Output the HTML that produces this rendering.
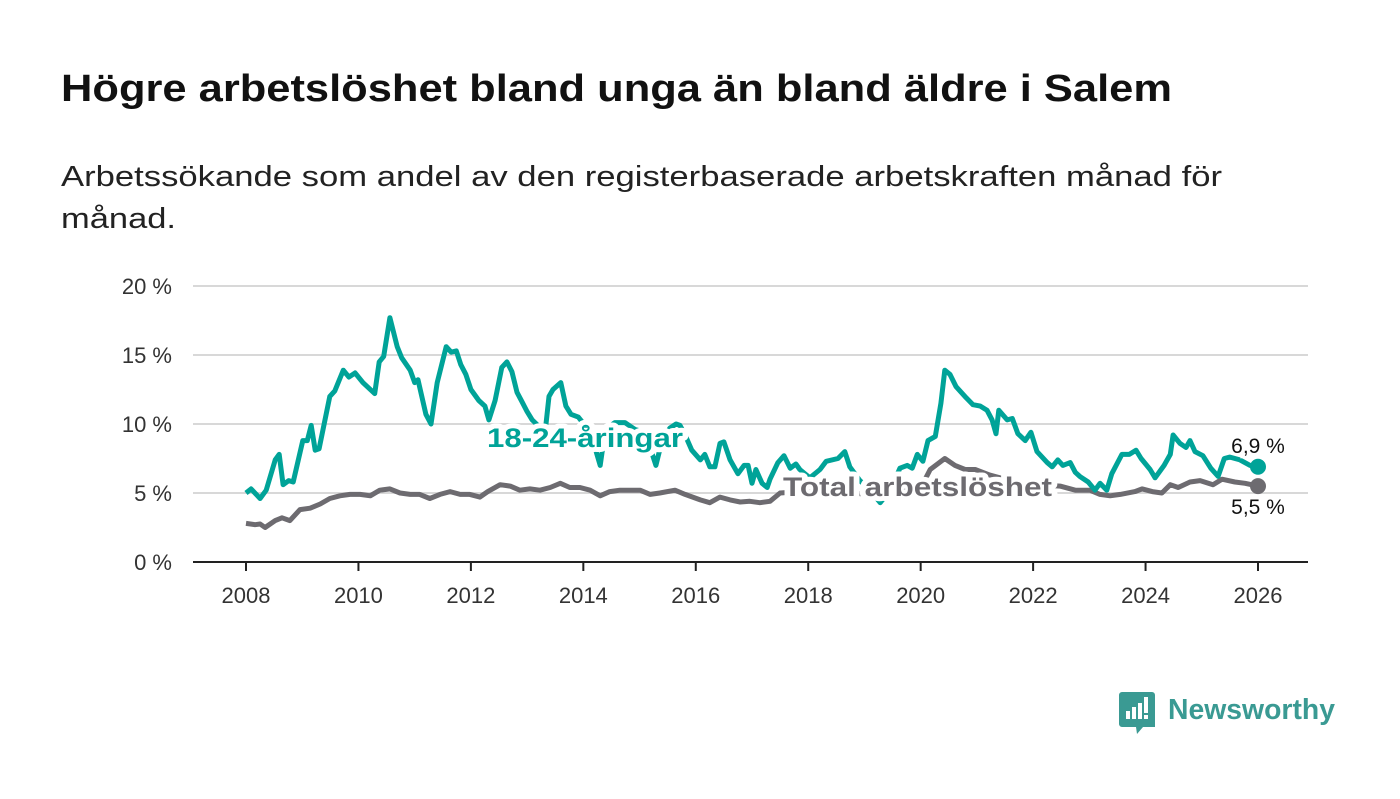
<!DOCTYPE html>
<html><head><meta charset="utf-8"><style>
body{margin:0;background:#fff;width:1400px;height:794px;overflow:hidden;font-family:"Liberation Sans",sans-serif}
</style></head><body>
<svg width="1400" height="794" xmlns="http://www.w3.org/2000/svg">
<text x="61" y="101" font-size="38" font-weight="bold" fill="#111" textLength="1111" lengthAdjust="spacingAndGlyphs">Högre arbetslöshet bland unga än bland äldre i Salem</text>
<text x="61" y="186" font-size="29" fill="#222" textLength="1161" lengthAdjust="spacingAndGlyphs">Arbetssökande som andel av den registerbaserade arbetskraften månad för</text>
<text x="61" y="228" font-size="29" fill="#222" textLength="115" lengthAdjust="spacingAndGlyphs">månad.</text>
<g id="grid"></g><g id="xaxis"></g><g id="series"></g>
<g>
<path d="M1122,692 h30 a3,3 0 0 1 3,3 v32 h-12 l-6,7 l-1,-7 h-14 a3,3 0 0 1 -3,-3 v-29 a3,3 0 0 1 3,-3z" fill="#3a9a93"/>
<rect x="1126" y="711" width="4" height="8" fill="#fff"/><rect x="1132" y="707" width="4" height="12" fill="#fff"/><rect x="1138" y="703" width="4" height="16" fill="#fff"/><rect x="1144" y="697" width="4" height="16" fill="#fff"/><rect x="1144" y="715" width="4" height="4" fill="#fff"/>
<text x="1168" y="719" font-size="29" font-weight="bold" fill="#3a9a93" textLength="167" lengthAdjust="spacingAndGlyphs">Newsworthy</text></g>
</svg>
<script>
const yTicks=[0,5,10,15,20];
const yTickLabels=["0 %","5 %","10 %","15 %","20 %"];
const xTicks=[2008,2010,2012,2014,2016,2018,2020,2022,2024,2026];
const youthDates=[2008.00,2008.09,2008.25,2008.36,2008.52,2008.59,2008.66,2008.76,2008.84,2009.01,2009.09,2009.16,2009.23,2009.30,2009.49,2009.58,2009.73,2009.83,2009.94,2010.08,2010.29,2010.37,2010.45,2010.56,2010.69,2010.77,2010.92,2011.00,2011.06,2011.20,2011.29,2011.40,2011.56,2011.65,2011.74,2011.82,2011.91,2012.00,2012.14,2012.25,2012.32,2012.43,2012.55,2012.64,2012.73,2012.82,2012.91,2013.00,2013.09,2013.19,2013.32,2013.39,2013.46,2013.60,2013.69,2013.78,2013.91,2014.03,2014.17,2014.30,2014.39,2014.56,2014.74,2014.92,2015.10,2015.29,2015.40,2015.54,2015.65,2015.72,2015.81,2015.93,2016.08,2016.16,2016.25,2016.34,2016.43,2016.50,2016.61,2016.75,2016.86,2016.93,2017.00,2017.07,2017.18,2017.27,2017.32,2017.46,2017.57,2017.68,2017.78,2017.85,2018.03,2018.21,2018.32,2018.53,2018.65,2018.74,2018.92,2019.10,2019.28,2019.46,2019.63,2019.76,2019.85,2019.94,2020.04,2020.13,2020.26,2020.36,2020.43,2020.52,2020.63,2020.81,2020.93,2021.06,2021.18,2021.27,2021.34,2021.39,2021.54,2021.63,2021.73,2021.86,2021.96,2022.07,2022.25,2022.34,2022.44,2022.53,2022.66,2022.75,2022.83,2022.98,2023.10,2023.19,2023.31,2023.40,2023.58,2023.71,2023.83,2023.92,2024.08,2024.17,2024.33,2024.44,2024.49,2024.61,2024.72,2024.79,2024.88,2025.02,2025.16,2025.29,2025.40,2025.50,2025.68,2025.86,2026.00];
const youthValues=[5.0,5.3,4.6,5.2,7.4,7.8,5.6,5.9,5.8,8.8,8.8,9.9,8.1,8.2,12.0,12.4,13.9,13.4,13.7,13.0,12.2,14.5,14.9,17.7,15.6,14.8,13.9,13.0,13.2,10.7,10.0,13.0,15.6,15.2,15.3,14.3,13.6,12.5,11.7,11.3,10.3,11.7,14.1,14.5,13.8,12.3,11.6,10.9,10.3,9.9,9.4,12.0,12.5,13.0,11.3,10.7,10.5,9.9,8.8,7.0,9.6,10.1,10.1,9.6,9.4,7.0,8.8,9.7,10.0,9.9,9.2,8.1,7.4,7.8,6.9,6.9,8.6,8.7,7.4,6.4,7.0,7.0,5.7,6.7,5.7,5.4,6.0,7.2,7.7,6.8,7.1,6.7,6.1,6.7,7.3,7.5,8.0,6.9,5.9,5.2,4.3,5.2,6.8,7.0,6.8,7.8,7.3,8.8,9.1,11.5,13.9,13.6,12.7,11.9,11.4,11.3,11.0,10.3,9.3,11.0,10.3,10.4,9.3,8.8,9.4,8.0,7.2,6.9,7.4,7.0,7.2,6.5,6.2,5.8,5.2,5.7,5.2,6.4,7.8,7.8,8.1,7.5,6.7,6.1,7.0,7.8,9.2,8.6,8.3,8.8,8.0,7.7,6.8,6.2,7.5,7.6,7.4,7.0,6.9];
const totalDates=[2008.00,2008.16,2008.25,2008.34,2008.52,2008.64,2008.78,2008.96,2009.14,2009.32,2009.49,2009.67,2009.85,2010.03,2010.21,2010.38,2010.56,2010.74,2010.92,2011.09,2011.27,2011.45,2011.63,2011.81,2011.98,2012.16,2012.30,2012.52,2012.70,2012.87,2013.05,2013.23,2013.41,2013.59,2013.76,2013.94,2014.12,2014.30,2014.47,2014.65,2014.83,2015.01,2015.19,2015.36,2015.63,2015.81,2016.08,2016.25,2016.43,2016.61,2016.79,2016.96,2017.14,2017.32,2017.50,2017.85,2018.21,2018.74,2019.10,2019.46,2019.81,2020.08,2020.17,2020.43,2020.61,2020.79,2020.97,2021.23,2021.41,2021.59,2021.77,2022.12,2022.48,2022.75,2023.01,2023.19,2023.37,2023.55,2023.81,2023.94,2024.12,2024.29,2024.44,2024.58,2024.79,2024.97,2025.20,2025.36,2025.59,2025.77,2026.00];
const totalValues=[2.8,2.7,2.75,2.5,3.0,3.2,3.0,3.8,3.9,4.2,4.6,4.8,4.9,4.9,4.8,5.2,5.3,5.0,4.9,4.9,4.6,4.9,5.1,4.9,4.9,4.7,5.1,5.6,5.5,5.2,5.3,5.2,5.4,5.7,5.4,5.4,5.2,4.8,5.1,5.2,5.2,5.2,4.9,5.0,5.2,4.9,4.5,4.3,4.7,4.5,4.35,4.4,4.3,4.4,5.0,5.1,5.1,5.0,4.9,5.0,5.4,6.0,6.7,7.5,7.0,6.7,6.7,6.3,6.1,5.8,5.8,5.6,5.5,5.2,5.2,4.9,4.8,4.9,5.1,5.3,5.1,5.0,5.6,5.4,5.8,5.9,5.6,6.0,5.8,5.7,5.5];
const NS="http://www.w3.org/2000/svg";
const X=y=>246+(y-2008)*(1012/18);
const Y=v=>562-v*13.8;
function mk(tag,attrs,parent,txt){const e=document.createElementNS(NS,tag);for(const k in attrs)e.setAttribute(k,attrs[k]);if(txt!==undefined)e.textContent=txt;parent.appendChild(e);return e;}
const grid=document.getElementById('grid');
yTicks.forEach((t,i)=>{
 if(t>0){const l=mk('line',{x1:193,x2:1308,y1:Y(t),y2:Y(t),stroke:'#d8d8d8','stroke-width':2},grid);
 
 }
 const tx=mk('text',{x:172,y:Y(t)+8,'text-anchor':'end','font-size':22,fill:'#333'},grid,yTickLabels[i]);
 
 
});
const xa=document.getElementById('xaxis');
const ax=mk('line',{x1:193,x2:1308,y1:562,y2:562,stroke:'#222','stroke-width':2},xa);


xTicks.forEach(t=>{
 const tk=mk('line',{x1:X(t),x2:X(t),y1:562,y2:571,stroke:'#222','stroke-width':2},xa);
 
 
 const tl=mk('text',{x:X(t),y:603,'text-anchor':'middle','font-size':22,fill:'#333'},xa,String(t));
 
 
});
const s=document.getElementById('series');
function pts(d,v){return d.map((x,i)=>X(x).toFixed(1)+','+Y(v[i]).toFixed(1)).join(' ');}
const tl=mk('polyline',{points:pts(totalDates,totalValues),fill:'none',stroke:'#6d6b70','stroke-width':5,'stroke-linejoin':'round'},s);


const yl=mk('polyline',{points:pts(youthDates,youthValues),fill:'none',stroke:'#00a398','stroke-width':5,'stroke-linejoin':'round'},s);


const lab1=mk('text',{x:487,y:447,'font-size':27,'font-weight':'bold',fill:'#00a398',stroke:'#fff','stroke-width':10,'paint-order':'stroke','stroke-linejoin':'round',textLength:196,lengthAdjust:'spacingAndGlyphs'},s,'18-24-åringar');


const lab2=mk('text',{x:783,y:496,'font-size':27,'font-weight':'bold',fill:'#6d6b70',stroke:'#fff','stroke-width':10,'paint-order':'stroke','stroke-linejoin':'round',textLength:269,lengthAdjust:'spacingAndGlyphs'},s,'Total arbetslöshet');


const ly=youthValues[youthValues.length-1], lt=totalValues[totalValues.length-1];
const d1=mk('circle',{cx:X(2026),cy:Y(ly),r:8,fill:'#00a398'},s);


const d2=mk('circle',{cx:X(2026),cy:Y(lt),r:8,fill:'#6d6b70'},s);


const v1=mk('text',{x:X(2026),y:Y(ly)-14,'text-anchor':'middle','font-size':21,fill:'#111',stroke:'#fff','stroke-width':5,'paint-order':'stroke'},s,ly.toFixed(1).replace('.',',')+' %');


const v2=mk('text',{x:X(2026),y:Y(lt)+28,'text-anchor':'middle','font-size':21,fill:'#111',stroke:'#fff','stroke-width':5,'paint-order':'stroke'},s,lt.toFixed(1).replace('.',',')+' %');


</script>
</body></html>
